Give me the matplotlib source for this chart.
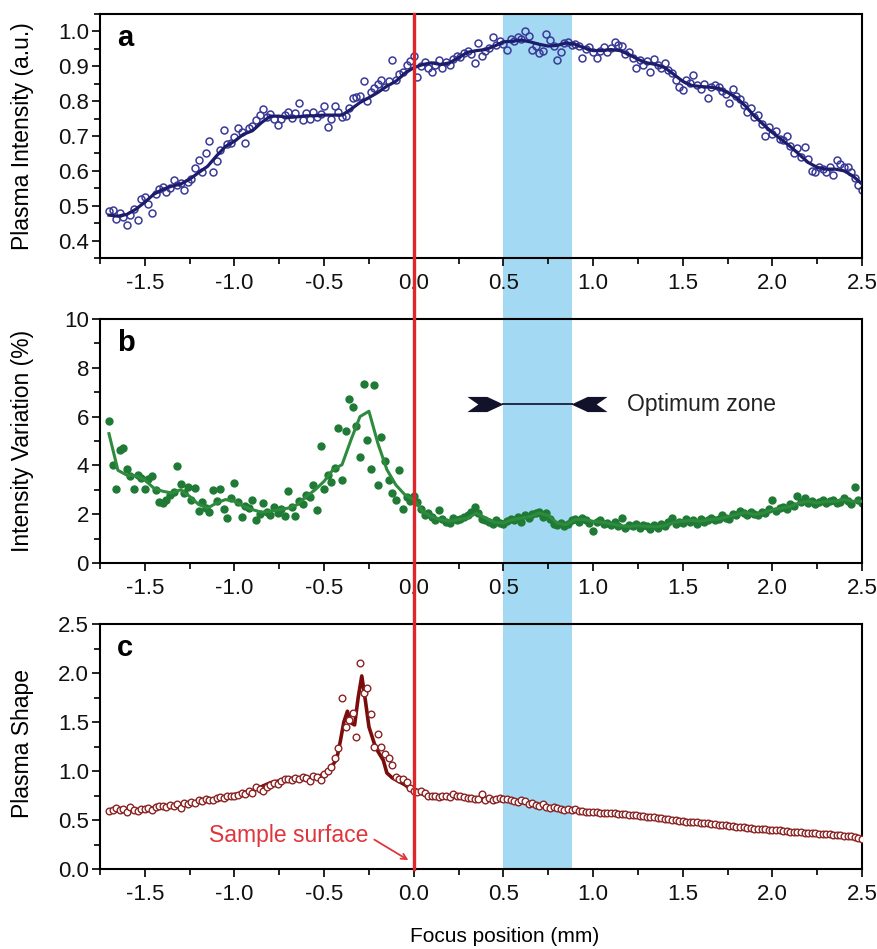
import numpy as np
import matplotlib
matplotlib.use('Agg')
import matplotlib.pyplot as plt
from matplotlib.lines import Line2D
from matplotlib.patches import Rectangle
from matplotlib.path import Path
from matplotlib.ticker import MultipleLocator, FormatStrFormatter
from matplotlib.transforms import blended_transform_factory

plt.rcParams['font.family'] = ['Liberation Sans', 'DejaVu Sans']
plt.rcParams['axes.unicode_minus'] = False

# measurement grid (mm) for the points, and for the smoothed curves
FOCUS_START = -1.70
FOCUS_STEP = 0.02
CURVE_STEP = 0.05
OPT_ZONE = (0.50, 0.88)

# a: plasma intensity (a.u.), one row = 0.2 mm
intensity_pts = [
    .485, .488, .462, .480, .468, .444, .472, .492, .460, .520,
    .526, .505, .478, .535, .548, .555, .540, .552, .575, .560,
    .565, .545, .568, .578, .608, .632, .598, .650, .685, .596,
    .627, .660, .717, .678, .681, .698, .722, .712, .681, .722,
    .728, .745, .760, .777, .755, .762, .750, .732, .748, .760,
    .770, .752, .765, .796, .745, .765, .750, .768, .755, .762,
    .787, .727, .750, .785, .768, .755, .757, .780, .810, .812,
    .815, .857, .800, .825, .838, .848, .860, .840, .858, .917,
    .862, .878, .884, .905, .915, .930, .870, .900, .912, .895,
    .883, .905, .918, .895, .912, .905, .922, .930, .928, .938,
    .945, .935, .910, .968, .930, .945, .952, .983, .962, .972,
    .965, .947, .978, .972, .985, .978, 1.000, .987, .947, .958,
    .937, .945, .994, .975, .958, .917, .940, .968, .970, .962,
    .965, .958, .923, .950, .955, .940, .925, .945, .955, .940,
    .952, .971, .960, .958, .935, .942, .925, .894, .918, .905,
    .915, .885, .920, .905, .895, .910, .888, .880, .860, .840,
    .832, .862, .852, .875, .845, .835, .850, .810, .842, .845,
    .840, .830, .820, .795, .834, .815, .805, .790, .770, .780,
    .755, .760, .735, .700, .725, .705, .715, .690, .688, .700,
    .672, .650, .665, .640, .668, .635, .600, .598, .612, .605,
    .598, .610, .589, .630, .620, .610, .612, .596, .580, .560,
    .545,
]
intensity_fit = [
    .473, .470, .475, .490, .510, .533, .547, .556, .562, .576,
    .595, .613, .643, .670, .685, .705, .715, .738, .757, .757,
    .753, .755, .758, .758, .760, .760, .760, .777, .796, .810,
    .825, .843, .857, .880, .896, .905, .910, .905, .910, .925,
    .940, .945, .948, .958, .970, .972, .975, .970, .963, .958,
    .960, .967, .963, .953, .945, .945, .948, .945, .934, .920,
    .910, .905, .896, .877, .857, .845, .842, .840, .837, .825,
    .810, .786, .757, .733, .710, .690, .670, .647, .624, .610,
    .605, .605, .600, .585, .562,
]

# b: intensity variation (%)
variation_pts = [
    5.80, 4.03, 3.05, 4.64, 4.70, 3.85, 3.55, 3.03, 3.60, 3.50,
    3.05, 3.45, 3.55, 3.00, 2.50, 2.45, 2.60, 2.80, 2.90, 3.99,
    3.25, 2.85, 3.10, 2.60, 3.07, 2.15, 2.50, 2.25, 2.10, 3.00,
    2.55, 3.05, 2.20, 1.84, 2.65, 3.28, 2.50, 1.90, 2.35, 2.25,
    2.60, 1.78, 2.00, 2.46, 2.10, 1.95, 2.30, 2.05, 2.20, 1.94,
    2.96, 2.30, 1.94, 2.55, 2.40, 2.80, 2.70, 3.20, 2.19, 4.78,
    3.05, 3.60, 3.30, 3.90, 5.53, 3.39, 5.40, 6.72, 6.39, 5.60,
    4.34, 7.35, 5.03, 3.85, 7.30, 3.21, 5.16, 4.19, 3.40, 2.87,
    2.60, 3.83, 2.21, 2.70, 2.55, 2.75, 2.50, 2.20, 1.95, 2.05,
    1.90, 1.75, 2.19, 1.80, 1.70, 1.65, 1.85, 1.75, 1.80, 1.90,
    1.95, 2.10, 2.30, 2.05, 1.80, 1.75, 1.70, 1.60, 1.75, 1.65,
    1.60, 1.72, 1.80, 1.75, 1.90, 1.70, 1.95, 1.85, 2.00, 2.05,
    2.10, 1.90, 2.05, 1.80, 1.60, 1.55, 1.65, 1.50, 1.60, 1.75,
    1.80, 1.70, 1.85, 1.75, 1.65, 1.33, 1.70, 1.75, 1.60, 1.65,
    1.55, 1.70, 1.50, 1.84, 1.45, 1.55, 1.50, 1.60, 1.45, 1.55,
    1.50, 1.40, 1.55, 1.45, 1.60, 1.50, 1.70, 1.85, 1.60, 1.70,
    1.65, 1.80, 1.70, 1.75, 1.60, 1.80, 1.70, 1.75, 1.85, 1.75,
    1.80, 1.95, 1.85, 1.80, 2.00, 1.95, 2.15, 2.05, 1.95, 2.10,
    2.00, 1.95, 2.10, 2.05, 2.20, 2.60, 2.15, 2.25, 2.30, 2.20,
    2.40, 2.35, 2.76, 2.50, 2.65, 2.45, 2.55, 2.40, 2.50, 2.60,
    2.45, 2.55, 2.60, 2.45, 2.50, 2.65, 2.55, 2.40, 3.10, 2.60,
    2.45,
]
variation_fit = [
    5.30, 3.80, 3.60, 3.58, 3.40, 3.07, 2.94, 2.87, 3.00, 2.73,
    2.40, 2.25, 2.46, 2.60, 2.53, 2.32, 2.19, 2.08, 2.12, 2.19,
    2.25, 2.39, 2.73, 3.00, 3.35, 3.83, 4.03, 5.05, 6.00, 6.22,
    4.90, 3.83, 3.20, 2.80, 2.60, 2.10, 1.90, 1.78, 1.71, 1.78,
    1.84, 2.05, 1.84, 1.67, 1.64, 1.78, 1.84, 1.90, 2.05, 1.94,
    1.64, 1.57, 1.78, 1.78, 1.71, 1.67, 1.61, 1.53, 1.50, 1.53,
    1.50, 1.48, 1.53, 1.67, 1.71, 1.75, 1.71, 1.78, 1.81, 1.90,
    1.98, 2.08, 1.98, 2.05, 2.19, 2.25, 2.32, 2.46, 2.53, 2.46,
    2.53, 2.53, 2.60, 2.53, 2.53,
]

# c: plasma shape
shape_pts = [
    .59, .60, .62, .60, .61, .58, .63, .60, .59, .61,
    .61, .62, .60, .63, .64, .64, .63, .65, .64, .66,
    .62, .67, .66, .68, .67, .70, .69, .71, .70, .70,
    .72, .73, .72, .74, .75, .75, .76, .78, .77, .80,
    .78, .84, .82, .80, .84, .86, .88, .87, .90, .92,
    .92, .91, .93, .92, .94, .93, .90, .95, .94, .91,
    .97, 1.00, 1.04, 1.13, 1.23, 1.75, 1.45, 1.52, 1.59, 1.35,
    2.10, 1.80, 1.85, 1.58, 1.24, 1.38, 1.24, 1.17, 1.13, 1.06,
    .94, .92, .92, .89, .83, .80, .79, .80, .78, .75,
    .74, .74, .73, .74, .74, .73, .77, .75, .74, .73,
    .72, .72, .71, .71, .77, .70, .72, .70, .71, .72,
    .71, .71, .70, .69, .68, .70, .69, .66, .67, .65,
    .64, .66, .63, .62, .63, .62, .61, .60, .61, .60,
    .61, .59, .59, .58, .58, .58, .58, .57, .57, .57,
    .57, .57, .56, .56, .56, .55, .55, .55, .54, .54,
    .53, .53, .53, .52, .52, .51, .51, .50, .50, .49,
    .49, .48, .48, .48, .48, .47, .47, .47, .46, .46,
    .45, .45, .45, .44, .44, .43, .43, .43, .42, .42,
    .41, .41, .41, .41, .40, .40, .40, .40, .39, .39,
    .38, .38, .38, .38, .37, .37, .37, .37, .36, .36,
    .36, .36, .35, .35, .35, .34, .34, .34, .33, .32,
    .31,
]
shape_fit_x = [-1.70, -1.50, -1.30, -1.10, -0.90, -0.80, -0.70, -0.60, -0.55, -0.50,
               -0.46, -0.43, -0.41, -0.39, -0.37, -0.35, -0.33, -0.31, -0.29, -0.27,
               -0.25, -0.22, -0.20, -0.17, -0.15, -0.12, -0.10, -0.05, 0.00, 0.10,
               0.20, 0.30, 0.40, 0.50, 0.60, 0.70, 0.80, 0.90, 1.00, 1.20,
               1.40, 1.60, 1.80, 2.00, 2.20, 2.40, 2.50]
shape_fit = [.59, .61, .66, .72, .80, .88, .92, .93, .93, .97,
             1.04, 1.12, 1.30, 1.50, 1.61, 1.49, 1.47, 1.75, 1.97, 1.72,
             1.45, 1.28, 1.20, 1.11, .98, .93, .91, .86, .79, .74,
             .74, .72, .71, .70, .68, .65, .62, .60, .58, .55,
             .51, .47, .43, .40, .37, .34, .31]

RED = '#e0262b'
BAND = '#a3d9f2'
W, H = 877, 949


def grid(values, step):
    return FOCUS_START + step * np.arange(len(values))


def panel_rect(top_px, bottom_px):
    return [100 / W, 1 - bottom_px / H, 762 / W, (bottom_px - top_px) / H]


def style_axis(ax, ylim, major, minor, fmt, letter):
    ax.set_facecolor('none')
    ax.set_xlim(-1.75, 2.5)
    ax.set_ylim(*ylim)
    ax.xaxis.set_major_locator(MultipleLocator(0.5))
    ax.xaxis.set_minor_locator(MultipleLocator(0.25))
    ax.xaxis.set_major_formatter(FormatStrFormatter('%.1f'))
    ax.yaxis.set_major_locator(MultipleLocator(major))
    ax.yaxis.set_minor_locator(MultipleLocator(minor))
    ax.yaxis.set_major_formatter(FormatStrFormatter(fmt))
    for sp in ax.spines.values():
        sp.set_linewidth(1.5)
    ax.tick_params(which='both', direction='out', top=False, right=False,
                   width=1.3, labelsize=16, colors='#111111')
    ax.tick_params(which='major', length=6)
    ax.tick_params(which='minor', length=4)
    ax.tick_params(axis='x', pad=5)
    ax.tick_params(axis='y', pad=2)
    ax.text(0.022, 0.869, letter, transform=ax.transAxes, fontsize=21,
            fontweight='bold', va='baseline')


fig = plt.figure(figsize=(W / 100, H / 100), dpi=100)
ax_a = fig.add_axes(panel_rect(14, 258))
ax_b = fig.add_axes(panel_rect(319, 563))
ax_c = fig.add_axes(panel_rect(624, 869))

# a
ax_a.plot(grid(intensity_pts, FOCUS_STEP), intensity_pts, 'o', ms=5,
          mfc='none', mec='#3a3a98', mew=1.1, zorder=2)
ax_a.plot(grid(intensity_fit, CURVE_STEP), intensity_fit, color='#1c1c6b',
          lw=2.3, zorder=3)
style_axis(ax_a, (0.35, 1.05), 0.1, 0.05, '%.1f', 'a')

# b
ax_b.plot(grid(variation_pts, FOCUS_STEP), variation_pts, 'o', ms=5,
          color='#1f7a35', mec='#1f7a35', zorder=2)
ax_b.plot(grid(variation_fit, CURVE_STEP), variation_fit, color='#2e8b3e',
          lw=2.2, zorder=3)
style_axis(ax_b, (0, 10), 2, 1, '%d', 'b')

# optimum zone arrows (notched heads pointing at the band edges)
head = Path([(1, 0), (0.1, 0.42), (-1, 0.42), (-0.4, 0), (-1, -0.42),
             (0.1, -0.42), (1, 0)],
            [Path.MOVETO] + [Path.LINETO] * 5 + [Path.CLOSEPOLY])
head_l = Path(head.vertices * [-1, 1], head.codes)
arrow_y = 6.5
ax_b.plot(OPT_ZONE, [arrow_y, arrow_y], color='#252a4a', lw=1.4, zorder=4)
ax_b.plot([OPT_ZONE[0] - 0.1], [arrow_y], marker=head, ms=26, color='#12122a',
          mew=0, zorder=4)
ax_b.plot([OPT_ZONE[1] + 0.1], [arrow_y], marker=head_l, ms=26, color='#12122a',
          mew=0, zorder=4)
ax_b.text(1.19, arrow_y, 'Optimum zone', va='center', fontsize=16.5,
          color='#222222')

# c
ax_c.plot(shape_fit_x, shape_fit, color='#7b0c0c', lw=2.6, zorder=2)
ax_c.plot(grid(shape_pts, FOCUS_STEP), shape_pts, 'o', ms=4.8, mfc='white',
          mec='#8b2323', mew=1.0, zorder=3)
style_axis(ax_c, (0, 2.5), 0.5, 0.25, '%.1f', 'c')
ax_c.text(-0.70, 0.34, 'Sample surface', ha='center', va='center',
          fontsize=16.5, color='#e0353b')
ax_c.annotate('', xy=(-0.03, 0.09), xytext=(-0.22, 0.30),
              arrowprops=dict(arrowstyle='->', color='#e0353b', lw=1.3,
                              shrinkA=0, shrinkB=0))

# band and sample-surface line across all panels
c_bottom = 1 - 869 / H
a_top = 1 - 14 / H
tr = blended_transform_factory(ax_c.transData, fig.transFigure)
fig.add_artist(Rectangle((OPT_ZONE[0], c_bottom), OPT_ZONE[1] - OPT_ZONE[0],
                         a_top - c_bottom, transform=tr, color=BAND,
                         lw=0, zorder=-1))
fig.add_artist(Line2D([0, 0], [c_bottom, a_top], transform=tr, color=RED,
                      lw=2.4, zorder=10))

fig.text(23 / W, 1 - 136 / H, 'Plasma Intensity (a.u.)', rotation=90,
         ha='center', va='center', fontsize=16.5)
fig.text(23 / W, 1 - 441 / H, 'Intensity Variation (%)', rotation=90,
         ha='center', va='center', fontsize=16.5)
fig.text(23 / W, 1 - 744 / H, 'Plasma Shape', rotation=90,
         ha='center', va='center', fontsize=16.5)
fig.text(505 / W, 1 - 937 / H, 'Focus position (mm)', ha='center',
         va='center', fontsize=15)

fig.savefig('out.png', dpi=100)
